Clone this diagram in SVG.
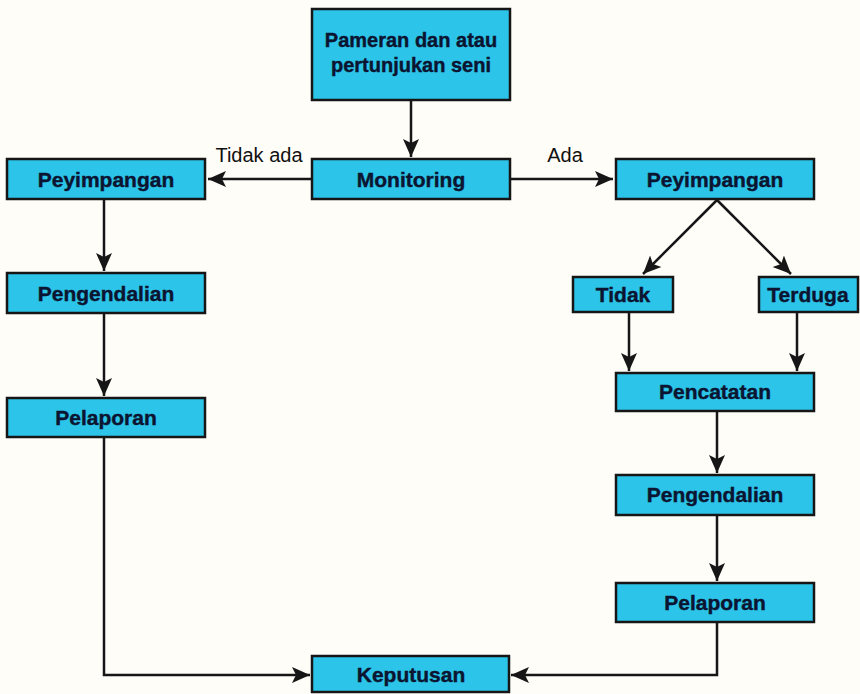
<svg xmlns="http://www.w3.org/2000/svg" width="860" height="694" viewBox="0 0 860 694">
<defs>
<style>
.box{fill:#2cc4e8;stroke:#161616;stroke-width:2.5}
.t{font-family:"Liberation Sans",Arial,sans-serif;font-weight:bold;font-size:21px;fill:#0b1430;stroke:#0b1430;stroke-width:0.4;text-anchor:middle}
.t2{font-size:20px}
.lbl{font-family:"Liberation Sans",Arial,sans-serif;font-size:20px;fill:#111;text-anchor:middle}
.c{fill:none;stroke:#161616;stroke-width:2.5}
</style>
<marker id="ah" markerUnits="userSpaceOnUse" markerWidth="20" markerHeight="18" refX="18" refY="9" orient="auto">
<path d="M0,1 L18,9 L0,17 L4,9 z" fill="#161616"/>
</marker>
</defs>
<rect width="860" height="694" fill="#fefdf8"/>
<g id="connectors">
<line class="c" x1="411" y1="100" x2="411" y2="157" marker-end="url(#ah)"/>
<line class="c" x1="312" y1="179" x2="208" y2="179" marker-end="url(#ah)"/>
<line class="c" x1="510" y1="179" x2="613" y2="179" marker-end="url(#ah)"/>
<line class="c" x1="104" y1="199" x2="104" y2="271" marker-end="url(#ah)"/>
<line class="c" x1="104" y1="313" x2="104" y2="396" marker-end="url(#ah)"/>
<path class="c" d="M104,437 V675 H310" marker-end="url(#ah)"/>
<line class="c" x1="717" y1="200" x2="643" y2="274" marker-end="url(#ah)"/>
<line class="c" x1="717" y1="200" x2="791" y2="274" marker-end="url(#ah)"/>
<line class="c" x1="629" y1="312" x2="629" y2="371" marker-end="url(#ah)"/>
<line class="c" x1="797" y1="312" x2="797" y2="371" marker-end="url(#ah)"/>
<line class="c" x1="717" y1="411" x2="717" y2="473" marker-end="url(#ah)"/>
<line class="c" x1="717" y1="515" x2="717" y2="581" marker-end="url(#ah)"/>
<path class="c" d="M717,622 V675 H511" marker-end="url(#ah)"/>
<text class="lbl" x="259" y="162">Tidak ada</text>
<text class="lbl" x="565" y="162">Ada</text>
</g>
<g id="pameran"><rect class="box" x="312" y="9" width="198" height="91"/>
<text class="t t2" x="411" y="47">Pameran dan atau</text><text class="t t2" x="411" y="72">pertunjukan seni</text></g>
<g id="monitoring"><rect class="box" x="312" y="159" width="198" height="40"/><text class="t" x="411" y="187">Monitoring</text></g>
<g id="peyimpangan-kiri"><rect class="box" x="7" y="159" width="198" height="40"/><text class="t" x="106" y="187">Peyimpangan</text></g>
<g id="pengendalian-kiri"><rect class="box" x="7" y="273" width="198" height="40"/><text class="t" x="106" y="301">Pengendalian</text></g>
<g id="pelaporan-kiri"><rect class="box" x="7" y="398" width="198" height="39"/><text class="t" x="106" y="425">Pelaporan</text></g>
<g id="peyimpangan-kanan"><rect class="box" x="616" y="159" width="198" height="40"/><text class="t" x="715" y="187">Peyimpangan</text></g>
<g id="tidak"><rect class="box" x="573" y="277" width="100" height="35"/><text class="t" x="623" y="302">Tidak</text></g>
<g id="terduga"><rect class="box" x="759" y="277" width="99" height="35"/><text class="t" x="808" y="302">Terduga</text></g>
<g id="pencatatan"><rect class="box" x="616" y="373" width="198" height="38"/><text class="t" x="715" y="399">Pencatatan</text></g>
<g id="pengendalian-kanan"><rect class="box" x="616" y="475" width="198" height="40"/><text class="t" x="715" y="502">Pengendalian</text></g>
<g id="pelaporan-kanan"><rect class="box" x="616" y="583" width="198" height="39"/><text class="t" x="715" y="610">Pelaporan</text></g>
<g id="keputusan"><rect class="box" x="312" y="656" width="197" height="36"/><text class="t" x="411" y="682">Keputusan</text></g>
</svg>
